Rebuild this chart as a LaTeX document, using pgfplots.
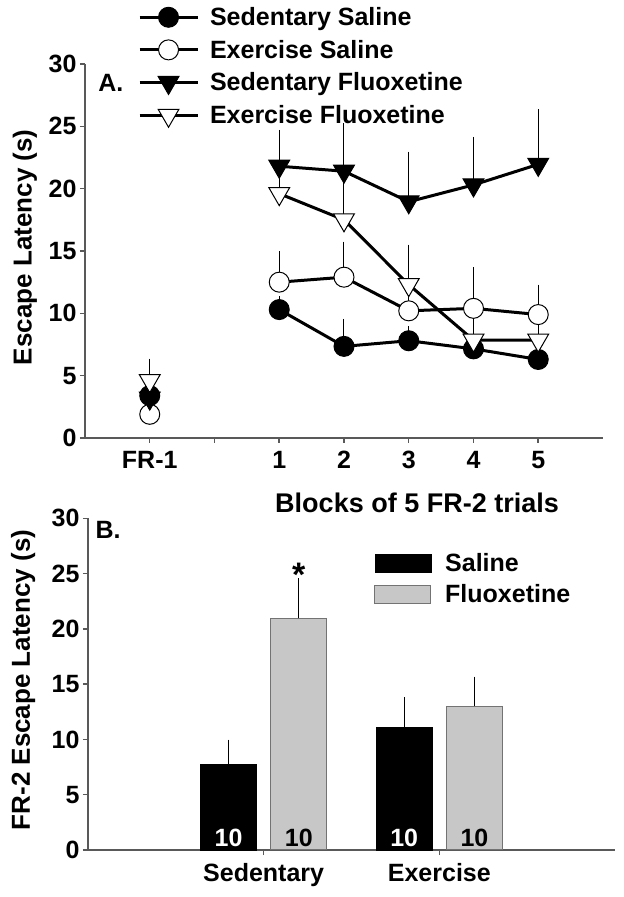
\documentclass[border=0pt]{standalone}
\usepackage{fontspec}
\setmainfont{Liberation Sans}
\usepackage{pgfplots}
\usepackage{pgfplotstable}
\pgfplotsset{compat=1.18}

% panel A: means and upper error (s)
\pgfplotstableread{
x  sedsal sedsalerr exsal exsalerr sedflu sedfluerr exflu exfluerr
-1 3.4    0.0       1.9   0.0      3.2    0.0       4.6   1.4
0  nan    0         nan   0        nan    0         nan   0
1  10.3   0.7       12.5  2.1      21.8   2.55      19.6  3.55
2  7.35   1.85      12.9  2.5      21.4   3.5       17.5  3.5
3  7.8    0.8       10.2  1.5      18.95  3.65      12.3  2.85
4  7.15   1.85      10.4  2.95     20.3   3.5       7.85  1.35
5  6.3    2.35      9.9   2.05     21.95  4.05      7.85  1.85
}\tabA

\newcommand{\fs}[1]{\fontsize{#1}{#1}\selectfont\bfseries}

\pgfplotsset{
  fig/.style={
    scale only axis, anchor=south west, clip=false,
    axis lines=left, axis line style={-, line width=1.5bp, black!65},
    tick style={line width=1.5bp, black!65},
    tick align=outside, major tick length=5bp,
    ymin=0, ymax=30, ytick={0,5,...,30},
    /pgf/number format/assume math mode=true,
    tick label style={font=\fs{25bp}},
    xticklabel style={yshift=-5bp},
    ylabel style={font=\fs{26bp}, anchor=center},
    legend style={draw=none, fill=none, font=\fs{25bp}, legend cell align=left,
      inner sep=0pt},
  },
  ebar/.style 2 args={error bars/.cd, y dir=plus, y explicit,
    error bar style={line width=#1, black, solid},
    error mark options={line width=#1, black, mark size=#2}},
  ln/.style={black, line width=3bp, mark size=#1},
}

\begin{document}
\begin{tikzpicture}
\useasboundingbox (0,0) rectangle (624bp,897bp);

\begin{axis}[fig,
  at={(85bp,459bp)}, width=518bp, height=374bp,
  xmin=-2, xmax=6,
  xtick={-1,0,1,2,3,4,5}, xticklabels={FR-1,,1,2,3,4,5},
  unbounded coords=jump,
  ylabel={Escape Latency (s)},
  ylabel style={at={(axis description cs:-0.116,0.51)}},
  xlabel={Blocks of 5 FR-2 trials},
  xlabel style={font=\fs{27bp}, at={(axis description cs:0.641,0)}, anchor=base, yshift=-75bp},
  legend style={at={(axis description cs:0.102,1.157)}, anchor=north west, row sep=9bp, column sep=9bp},
  legend image code/.code={\draw[mark repeat=2,mark phase=2,#1] plot coordinates {(0bp,0bp) (29bp,0bp) (58bp,0bp)};},
]
\addplot[ln=10bp, mark=*, mark options={fill=black, line width=1bp}, ebar={1bp}{4.5bp}]
  table[x=x, y=sedsal, y error=sedsalerr] {\tabA};
\addplot[ln=10bp, mark=*, mark options={fill=white, line width=1bp}, ebar={1bp}{4.5bp}]
  table[x=x, y=exsal, y error=exsalerr] {\tabA};
\addplot[ln=12bp, mark=triangle*, mark options={fill=black, rotate=180, line width=1bp}, ebar={1bp}{4.5bp}]
  table[x=x, y=sedflu, y error=sedfluerr] {\tabA};
\addplot[ln=12bp, mark=triangle*, mark options={fill=white, rotate=180, line width=1bp}, ebar={1bp}{4.5bp}]
  table[x=x, y=exflu, y error=exfluerr] {\tabA};
\legend{Sedentary Saline, Exercise Saline, Sedentary Fluoxetine, Exercise Fluoxetine}
\node[font=\fs{25bp}] at (axis description cs:0.05,0.949) {A.};
\end{axis}

\begin{axis}[fig,
  at={(88bp,47bp)}, width=527bp, height=331.7bp,
  xmin=0, xmax=3, xtick={1,2}, xticklabels={Sedentary,Exercise},
  ybar, bar width=56bp,
  ylabel={FR-2 Escape Latency (s)},
  ylabel style={at={(axis description cs:-0.123,0.5125)}},
  legend style={at={(axis description cs:0.5427,0.90)}, anchor=north west, row sep=7bp, column sep=12bp},
  legend image code/.code={\draw[#1] (0bp,-9bp) rectangle (56bp,9bp);},
]
\addplot[fill=black, draw=black, bar shift=-35bp, ebar={1.5bp}{7bp}]
  coordinates {(1,7.75) +- (0,1.6) (2,11.12) +- (0,2.05)};
\addplot[fill=black!22, draw=black!55, line width=1bp, bar shift=35bp, ebar={1.5bp}{7bp}]
  coordinates {(1,20.95) +- (0,3.0) (2,13.02) +- (0,2.02)};
\legend{Saline, Fluoxetine}
\node[font=\fs{25bp}] at (axis description cs:0.038,0.965) {B.};
\node[font=\fs{34bp}] at (axis cs:1.2,24.9) {*};
\node[font=\fs{25bp}, white] at (axis cs:0.8,1.1) {10};
\node[font=\fs{25bp}] at (axis cs:1.2,1.1) {10};
\node[font=\fs{25bp}, white] at (axis cs:1.8,1.1) {10};
\node[font=\fs{25bp}] at (axis cs:2.2,1.1) {10};
\end{axis}
\end{tikzpicture}
\end{document}
